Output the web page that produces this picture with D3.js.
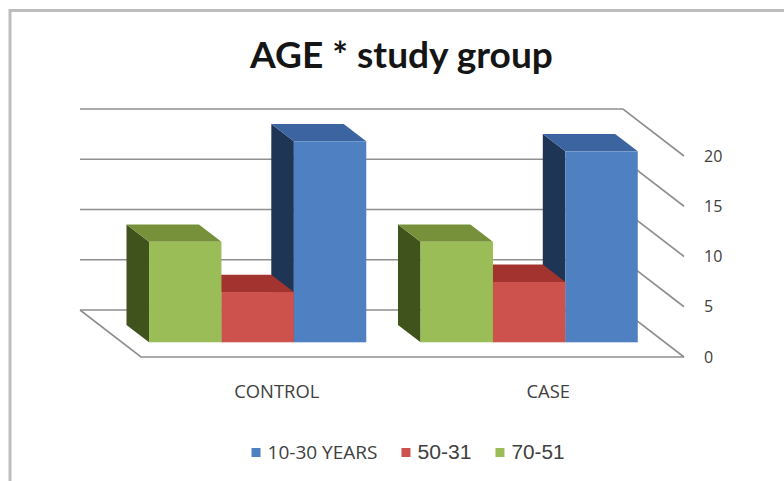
<!DOCTYPE html>
<html>
<head>
<meta charset="utf-8">
<script src="https://cdn.jsdelivr.net/npm/d3@7"></script>
<style>
  html, body { margin: 0; padding: 0; background: #ffffff; }
  svg { display: block; }
</style>
</head>
<body>
<script>
// ---- data ----
const chartTitle = "AGE * study group";
const categories = ["CONTROL", "CASE"];
const seriesNames = ["10-30 YEARS", "50-31", "70-51"];
const years10to30 = [20, 19];
const years31to50 = [5, 6];
const years51to70 = [10, 10];
const valueTicks = [0, 5, 10, 15, 20];

// ---- styling ----
const W = 784, H = 481;
const palette = {
  "10-30 YEARS": { front: "#4f81c2", top: "#3b64a0", side: "#1e3556" },
  "50-31":       { front: "#cd514c", top: "#a3332f", side: "#6e2220" },
  "70-51":       { front: "#9bbd57", top: "#77913b", side: "#41531d" }
};
const legendFonts = {
  "10-30 YEARS": "'Open Sans', sans-serif",
  "50-31": "'Liberation Sans', Arial, sans-serif",
  "70-51": "'Liberation Sans', Arial, sans-serif"
};
// set a text's font size so that it spans the given width
function fitWidth(sel, target) {
  const w = sel.node().getComputedTextLength();
  const fs = parseFloat(sel.style("font-size"));
  const size = fs * target / w;
  sel.style("font-size", size.toFixed(2) + "px");
  return size;
}

const series = [
  { name: seriesNames[0], values: years10to30 },
  { name: seriesNames[1], values: years31to50 },
  { name: seriesNames[2], values: years51to70 }
];
// columns stand left to right in the reverse of the legend order
const barOrder = series.slice().reverse().map(s => s.name);

const svg = d3.select("body").append("svg")
  .attr("width", W).attr("height", H);

// chart frame (top and left edges)
svg.append("path")
  .attr("d", `M10,${H} L10,10.5 L${W},10.5`)
  .attr("fill", "none").attr("stroke", "#bdbdbd").attr("stroke-width", 3);

// ---- 3D projection ----
const DX = -61, DY = -47;          // offset of the back wall from the front plane
const x = d3.scaleBand().domain(categories).range([141, 684]).padding(0);
const xs = d3.scaleBand().domain(barOrder).range([0, x.bandwidth()])
  .paddingInner(0).paddingOuter(0.375);
const y = d3.scaleLinear().domain([0, 20]).range([357, 156]);
const proj = (px, v, z) => [px + z * DX, y(v) + z * DY];
const [xMin, xMax] = x.range();

// ---- walls and gridlines ----
const line = d3.line();
const grid = svg.append("g").attr("fill", "none")
  .attr("stroke", "#8f8f8f").attr("stroke-width", 1.6);
valueTicks.forEach(v => {
  grid.append("path").attr("d", line([
    proj(xMin, v, 1), proj(xMax, v, 1), proj(xMax, v, 0)
  ]));
});
// floor: left and front edges
grid.append("path").attr("d", line([
  proj(xMin, 0, 1), proj(xMin, 0, 0), proj(xMax, 0, 0)
]));

// ---- columns ----
const ZF = 0.313, ZD = 0.37;       // front position and depth of each column
const bars = svg.append("g");
categories.slice().reverse().forEach(cat => {
  const ci = categories.indexOf(cat);
  barOrder.slice().reverse().forEach(name => {
    const s = series.find(d => d.name === name);
    const v = s.values[ci];
    const c = palette[name];
    const x0 = x(cat) + xs(name), x1 = x0 + xs.bandwidth();
    const fl = proj(x0, 0, ZF);
    const tl = proj(x0, v, ZF), tr = proj(x1, v, ZF);
    const btl = proj(x0, v, ZF + ZD), btr = proj(x1, v, ZF + ZD);
    const bbl = proj(x0, 0, ZF + ZD);
    // left side
    bars.append("path").attr("d", line([tl, fl, bbl, btl]) + "Z")
      .attr("fill", c.side);
    // top
    bars.append("path").attr("d", line([tl, tr, btr, btl]) + "Z")
      .attr("fill", c.top);
    // front
    bars.append("rect")
      .attr("x", tl[0]).attr("y", tl[1])
      .attr("width", x1 - x0).attr("height", fl[1] - tl[1])
      .attr("fill", c.front);
  });
});

// ---- value axis (right side) ----
const yAxis = svg.append("g")
  .attr("transform", "translate(700,0)")
  .call(d3.axisRight(y).tickValues(valueTicks).tickSize(0).tickPadding(4));
yAxis.select(".domain").remove();
yAxis.selectAll("text")
  .attr("fill", "#404040")
  .style("font-family", "'Open Sans', sans-serif")
  .style("font-size", "16px");

// ---- category axis ----
const xAxis = svg.append("g")
  .attr("transform", "translate(0,385)")
  .call(d3.axisBottom(x).tickSize(0).tickPadding(0));
xAxis.select(".domain").remove();
const catText = xAxis.selectAll("text")
  .attr("fill", "#404040")
  .style("font-family", "'Open Sans', sans-serif")
  .style("font-size", "15px");
const catSize = fitWidth(catText.filter(d => d === "CONTROL"), 85);
catText.style("font-size", catSize.toFixed(2) + "px");

// ---- title ----
const title = svg.append("text")
  .attr("x", 401.5).attr("y", 68)
  .attr("text-anchor", "middle")
  .attr("fill", "#151515")
  .style("font-family", "Lato, sans-serif")
  .style("font-weight", "700")
  .style("font-size", "40px")
  .text(chartTitle);
fitWidth(title, 303);

// ---- legend ----
const legend = svg.append("g").attr("transform", "translate(0,459)");
const legendWidths = { "10-30 YEARS": 110, "50-31": 54, "70-51": 53 };
let lx = 0;
const items = [];
seriesNames.forEach(name => {
  const g = legend.append("g");
  g.append("rect").attr("x", 0).attr("y", -11).attr("width", 9).attr("height", 9)
    .attr("fill", palette[name].front);
  const t = g.append("text").attr("x", 16).attr("y", 0)
    .attr("fill", "#404040")
    .style("font-family", legendFonts[name])
    .style("font-size", "16px")
    .text(name);
  fitWidth(t, legendWidths[name]);
  const w = 16 + t.node().getComputedTextLength();
  items.push({ g, x: lx });
  lx += w + 24;
});
const totalW = lx - 24;
const startX = 408 - totalW / 2;
items.forEach(it => it.g.attr("transform", `translate(${startX + it.x},0)`));
</script>
</body>
</html>
